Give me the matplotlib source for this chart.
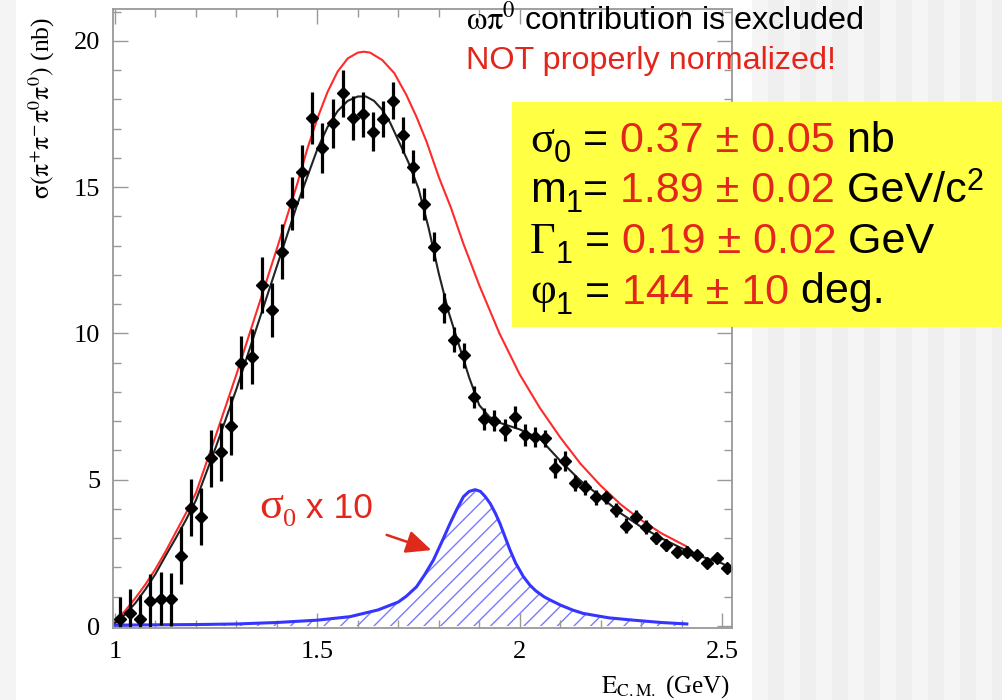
import numpy as np
import matplotlib
matplotlib.use("Agg")
import matplotlib.pyplot as plt
from matplotlib.patches import Rectangle, FancyArrowPatch
from matplotlib.ticker import MultipleLocator
from matplotlib.transforms import IdentityTransform

plt.rcParams['font.family'] = ['Liberation Sans', 'DejaVu Sans']
plt.rcParams['mathtext.fontset'] = 'stix'
plt.rcParams['hatch.linewidth'] = 1.0

# measured cross section, 25 MeV bins
e_cm = [1.0125, 1.0375, 1.0625, 1.0875, 1.1125, 1.1375, 1.1625, 1.1875, 1.2125, 1.2375,
        1.2625, 1.2875, 1.3125, 1.3375, 1.3625, 1.3875, 1.4125, 1.4375, 1.4625, 1.4875,
        1.5125, 1.5375, 1.5625, 1.5875, 1.6125, 1.6375, 1.6625, 1.6875, 1.7125, 1.7375,
        1.7625, 1.7875, 1.8125, 1.8375, 1.8625, 1.8875, 1.9125, 1.9375, 1.9625, 1.9875,
        2.0125, 2.0375, 2.0625, 2.0875, 2.1125, 2.1375, 2.1625, 2.1875, 2.2125, 2.2375,
        2.2625, 2.2875, 2.3125, 2.3375, 2.3625, 2.3875, 2.4125, 2.4375, 2.4625, 2.4875,
        2.5125]
sigma = [0.23, 0.43, 0.23, 0.87, 0.94, 0.91, 2.40, 4.04, 3.74, 5.73,
         5.94, 6.85, 9.00, 9.21, 11.66, 10.80, 12.80, 14.45, 15.53, 17.36,
         16.35, 17.19, 18.21, 17.36, 17.49, 16.90, 17.32, 17.96, 16.79, 15.70,
         14.43, 12.97, 10.86, 9.78, 9.26, 7.82, 7.07, 7.02, 6.70, 7.14,
         6.53, 6.47, 6.42, 5.39, 5.65, 4.88, 4.74, 4.40, 4.40, 3.97,
         3.43, 3.74, 3.39, 3.00, 2.77, 2.54, 2.54, 2.43, 2.16, 2.31,
         1.98]
sigma_err = [0.77, 0.82, 0.83, 0.90, 0.91, 0.90, 0.97, 0.97, 0.97, 0.97,
             1.00, 1.00, 0.90, 0.94, 0.97, 0.92, 0.95, 0.90, 0.90, 0.90,
             0.86, 0.84, 0.80, 0.74, 0.77, 0.66, 0.62, 0.64, 0.62, 0.56,
             0.55, 0.51, 0.51, 0.43, 0.43, 0.37, 0.38, 0.37, 0.37, 0.37,
             0.37, 0.34, 0.29, 0.34, 0.34, 0.28, 0.26, 0.26, 0.23, 0.24,
             0.26, 0.23, 0.23, 0.21, 0.19, 0.17, 0.19, 0.17, 0.15, 0.15,
             0.15]

# full fit
fit_e = [1.000, 1.025, 1.050, 1.075, 1.100, 1.125, 1.150, 1.175, 1.200, 1.250,
         1.300, 1.350, 1.400, 1.450, 1.500, 1.525, 1.550, 1.575, 1.600, 1.620,
         1.640, 1.660, 1.680, 1.700, 1.725, 1.750, 1.775, 1.800, 1.825, 1.850,
         1.875, 1.900, 1.925, 1.950, 2.000, 2.050, 2.100, 2.150, 2.200, 2.250,
         2.300, 2.350, 2.400, 2.450, 2.500, 2.520]
fit_sigma = [0.10, 0.40, 0.78, 1.25, 1.78, 2.40, 3.00, 3.62, 4.30, 6.15,
             8.10, 10.20, 12.30, 14.40, 16.30, 17.05, 17.60, 17.95, 18.10, 18.10,
             17.95, 17.65, 17.20, 16.60, 15.85, 14.95, 13.60, 12.05, 10.70, 9.60,
             8.50, 7.55, 7.15, 6.95, 6.72, 6.40, 5.65, 4.97, 4.42, 3.85,
             3.39, 3.00, 2.66, 2.37, 2.14, 2.00]

# fit without the 1.9 GeV resonance
nores_e = [1.000, 1.025, 1.050, 1.075, 1.100, 1.125, 1.150, 1.175, 1.200, 1.250,
           1.300, 1.350, 1.400, 1.425, 1.450, 1.475, 1.500, 1.525, 1.550, 1.575,
           1.600, 1.615, 1.630, 1.660, 1.690, 1.720, 1.745, 1.770, 1.800, 1.830,
           1.860, 1.900, 1.950, 2.000, 2.050, 2.100, 2.150, 2.200, 2.250, 2.300,
           2.350, 2.411]
nores_sigma = [0.15, 0.52, 0.95, 1.42, 1.95, 2.55, 3.20, 3.85, 4.55, 6.55,
               8.60, 10.75, 12.90, 14.00, 15.10, 16.30, 17.35, 18.25, 18.95, 19.40,
               19.60, 19.63, 19.60, 19.35, 18.90, 18.15, 17.40, 16.55, 15.35, 14.30,
               13.10, 11.65, 10.00, 8.60, 7.45, 6.45, 5.55, 4.80, 4.15, 3.62,
               3.17, 2.73]

# resonance contribution (x10)
res_e = [1.000, 1.100, 1.200, 1.300, 1.400, 1.500, 1.581, 1.650, 1.700, 1.720,
         1.745, 1.765, 1.787, 1.810, 1.828, 1.845, 1.861, 1.875, 1.890, 1.903,
         1.915, 1.927, 1.940, 1.951, 1.965, 1.976, 1.990, 2.009, 2.025, 2.040,
         2.060, 2.075, 2.100, 2.130, 2.157, 2.220, 2.281, 2.350, 2.413]
res_sigma = [0.03, 0.04, 0.05, 0.07, 0.12, 0.20, 0.32, 0.55, 0.82, 1.02,
             1.34, 1.75, 2.26, 2.95, 3.51, 4.00, 4.42, 4.60, 4.66, 4.60,
             4.42, 4.19, 3.85, 3.51, 3.00, 2.60, 2.15, 1.69, 1.40, 1.20,
             1.00, 0.89, 0.72, 0.55, 0.43, 0.28, 0.20, 0.12, 0.07]

RED = '#e3261c'
W, H = 1003, 700
SERIF = 'Liberation Serif'
SANS = 'Liberation Sans'

fig = plt.figure(figsize=(W / 100, H / 100), dpi=100)
fig.patch.set_facecolor('white')

# slide background
fig.patches.append(Rectangle((0, 0), 16 / W, 1, transform=fig.transFigure,
                             facecolor='#f4f4f4', edgecolor='none', zorder=-5))
for i, x0 in enumerate(range(752, W, 16)):
    fig.patches.append(Rectangle((x0 / W, 0), 16 / W, 1, transform=fig.transFigure,
                                 facecolor='#efefef' if i % 2 else '#f5f5f5',
                                 edgecolor='none', zorder=-5))

ax = fig.add_axes([113 / W, 1 - 628 / H, (732 - 113) / W, (628 - 9) / H])
ax.set_xlim(0.995, 2.5246)
ax.set_ylim(-0.068, 21.09)

ax.fill_between(res_e, 0, res_sigma, facecolor='none', edgecolor='#7a7aff',
                hatch='//', linewidth=0)
ax.plot(res_e, res_sigma, color='#3535ff', lw=2.2)
ax.plot(nores_e, nores_sigma, color='#ff2a2a', lw=1.5)
ax.plot(fit_e, fit_sigma, color='#222222', lw=1.5)
ax.errorbar(e_cm, sigma, yerr=sigma_err, xerr=0.008, fmt='D', color='black',
            ms=6, elinewidth=2.3, capsize=0)

ax.xaxis.set_major_locator(MultipleLocator(0.5))
ax.xaxis.set_minor_locator(MultipleLocator(0.1))
ax.yaxis.set_major_locator(MultipleLocator(5))
ax.yaxis.set_minor_locator(MultipleLocator(1))
ax.tick_params(which='both', direction='in', top=True, right=True, color='#999999')
ax.tick_params(which='major', length=11, width=1.0, pad=9)
ax.tick_params(which='minor', length=5.5, width=1.0)
ax.set_xticks([1, 1.5, 2, 2.5])
ax.set_xticklabels(['1', '1.5', '2', '2.5'], fontfamily=SERIF, fontsize=19)
ax.set_yticks([0, 5, 10, 15, 20])
ax.set_yticklabels(['0', '5', '10', '15', '20'], fontfamily=SERIF, fontsize=19)
for sp in ax.spines.values():
    sp.set_color('#999999')
    sp.set_linewidth(1.3)

fig.text(42 / W, 1 - 108 / H,
         r'$\mathrm{\sigma(\pi^{+}\pi^{-}\pi^{0}\pi^{0})}$ (nb)',
         rotation=90, ha='center', va='center', fontsize=18.5, fontfamily=SERIF)
fig.text(730 / W, 1 - 693 / H, r'$\mathrm{E}_{\mathrm{C.M.}}$ (GeV)', ha='right',
         va='baseline', fontsize=18, fontfamily=SERIF)

# notes above the plot
fig.text(466 / W, 1 - 29 / H, r'$\mathrm{\omega\pi^{0}}$ contribution is excluded',
         fontsize=23.3, va='baseline', color='black')
fig.text(466 / W, 1 - 69 / H, 'NOT properly normalized!', fontsize=23.3,
         va='baseline', color=RED)

# fit parameters box
fig.patches.append(Rectangle((512 / W, 1 - 327 / H), (W - 512) / W, (327 - 102) / H,
                             transform=fig.transFigure, facecolor='#ffff44',
                             edgecolor='none', zorder=3))

renderer = fig.canvas.get_renderer()


def text_width(s, size, family):
    t = fig.text(0, 0, s + '|', fontsize=size, fontfamily=family)
    w1 = t.get_window_extent(renderer).width
    t.remove()
    t = fig.text(0, 0, '|', fontsize=size, fontfamily=family)
    w2 = t.get_window_extent(renderer).width
    t.remove()
    return w1 - w2


def put_parts(x, y, parts):
    # parts: (text, colour, size, family, baseline shift in px)
    for s, c, size, family, dy in parts:
        fig.text(x, H - y + dy, s, fontsize=size, color=c, fontfamily=family,
                 va='baseline', transform=IdentityTransform(), zorder=4)
        x += text_width(s, size, family)


BIG, SUB = 31, 22
params = [
    [('σ', 'black', 32, SERIF, 0), ('0', 'black', SUB, SANS, -10),
     (' = ', 'black', BIG, SANS, 0), ('0.37 ± 0.05', RED, BIG, SANS, 0),
     (' nb', 'black', BIG, SANS, 0)],
    [('m', 'black', BIG, SANS, 0), ('1', 'black', SUB, SANS, -10),
     ('= ', 'black', BIG, SANS, 0), ('1.89 ± 0.02', RED, BIG, SANS, 0),
     (' GeV/c', 'black', BIG, SANS, 0), ('2', 'black', SUB, SANS, 13)],
    [('Γ', 'black', 32, SERIF, 0), ('1', 'black', SUB, SANS, -10),
     (' = ', 'black', BIG, SANS, 0), ('0.19 ± 0.02', RED, BIG, SANS, 0),
     (' GeV', 'black', BIG, SANS, 0)],
    [('φ', 'black', 32, SERIF, 0), ('1', 'black', SUB, SANS, -10),
     (' = ', 'black', BIG, SANS, 0), ('144 ± 10', RED, BIG, SANS, 0),
     (' deg.', 'black', BIG, SANS, 0)],
]
for row, parts in enumerate(params):
    put_parts(530, 152 + 50.5 * row, parts)

put_parts(259, 518, [('σ', RED, 32, SERIF, 0), ('0', RED, 19, SERIF, -8),
                     (' x 10', RED, 25.5, SANS, 0)])
fig.patches.append(FancyArrowPatch((384 / W, 1 - 534 / H), (434 / W, 1 - 551 / H),
                                   transform=fig.transFigure,
                                   arrowstyle='-|>,head_length=0.55,head_width=0.25',
                                   mutation_scale=28, color='#dd2a1a', lw=1.8,
                                   zorder=5))

fig.savefig('out.png', dpi=100)
